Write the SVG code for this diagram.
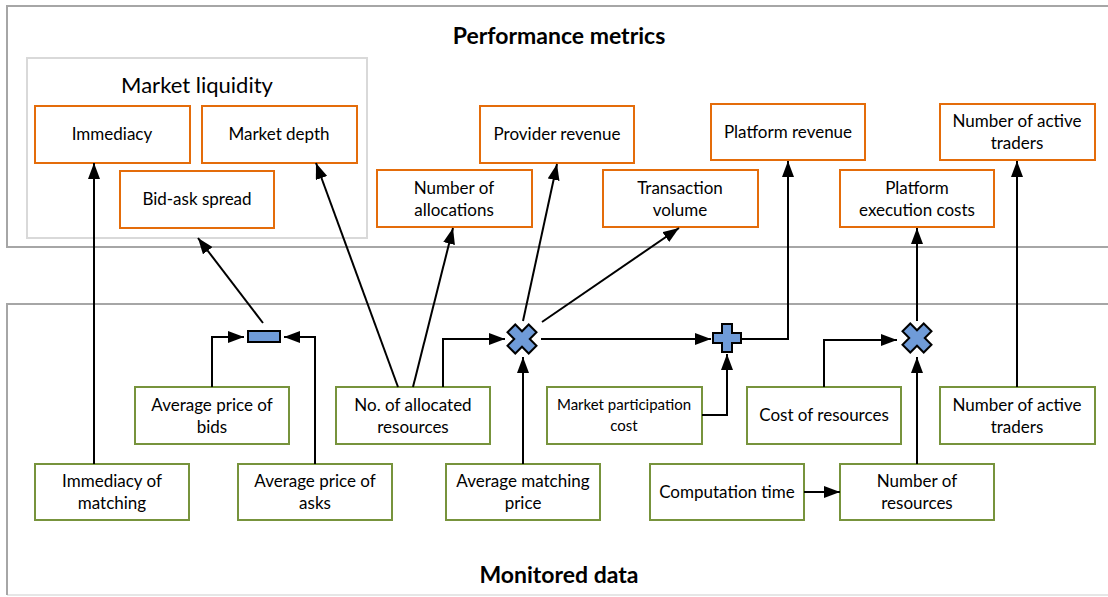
<svg xmlns="http://www.w3.org/2000/svg" width="1108" height="597" viewBox="0 0 1108 597">
<style>
.cont{fill:none;stroke:#A6A6A6;stroke-width:2}
.ml{fill:#fff;stroke:#D9D9D9;stroke-width:2}
.pm{fill:#fff;stroke:#E46C0A;stroke-width:2}
.md{fill:#fff;stroke:#77933C;stroke-width:2}
text{font-family:Lato,"Liberation Sans",sans-serif;fill:#000;text-anchor:middle}
.t{font-size:17px}
.ts{font-size:15px}
.title{font-size:23px;font-weight:bold}
.sub{font-size:22px}
.op{fill:#6F9BD8;stroke:#000;stroke-width:2;stroke-linejoin:miter}
.c{fill:none;stroke:#000;stroke-width:2;marker-end:url(#ah)}
</style>
<defs>
<marker id="ah" markerUnits="userSpaceOnUse" markerWidth="16" markerHeight="12" refX="16" refY="6" orient="auto"><path d="M0,0 L16,6 L0,12 z" fill="#000"/></marker>
<path id="plus" d="M-5,-14 H5 V-5 H14 V5 H5 V14 H-5 V5 H-14 V-5 H-5 Z"/>
<path id="cross" d="M-5.5,-15 H5.5 V-5.5 H15 V5.5 H5.5 V15 H-5.5 V5.5 H-15 V-5.5 H-5.5 Z" transform="rotate(45)"/>
</defs>
<rect width="1108" height="597" fill="#fff"/>
<g id="perf-container">
<rect class="cont" x="7" y="6" width="1110" height="241"/>
<text class="title" x="559" y="44">Performance metrics</text>
</g>
<g id="monitored-container">
<path d="M7,595 H1110" fill="none" stroke="#E6E6E6" stroke-width="2"/>
<path class="cont" d="M7,595 V304 H1110"/>
<text class="title" x="559" y="583">Monitored data</text>
</g>
<g id="market-liquidity">
<rect class="ml" x="27" y="58" width="340" height="180"/>
<text class="sub" x="197" y="93">Market liquidity</text>
</g>
<g id="immediacy"><rect class="pm" x="35" y="106" width="155" height="57"/><text class="t" x="112" y="140">Immediacy</text></g>
<g id="market-depth"><rect class="pm" x="202" y="106" width="155" height="57"/><text class="t" x="279" y="140">Market depth</text></g>
<g id="bid-ask-spread"><rect class="pm" x="120" y="171" width="154" height="57"/><text class="t" x="197" y="205">Bid-ask spread</text></g>
<g id="number-of-allocations"><rect class="pm" x="377" y="170" width="155" height="57"/><text class="t" x="454" y="194">Number of</text><text class="t" x="454" y="216">allocations</text></g>
<g id="provider-revenue"><rect class="pm" x="480" y="106" width="154" height="57"/><text class="t" x="557" y="140">Provider revenue</text></g>
<g id="transaction-volume"><rect class="pm" x="603" y="170" width="155" height="57"/><text class="t" x="680" y="194">Transaction</text><text class="t" x="680" y="216">volume</text></g>
<g id="platform-revenue"><rect class="pm" x="711" y="104" width="154" height="56"/><text class="t" x="788" y="138">Platform revenue</text></g>
<g id="platform-execution-costs"><rect class="pm" x="840" y="170" width="154" height="57"/><text class="t" x="917" y="194">Platform</text><text class="t" x="917" y="216">execution costs</text></g>
<g id="number-of-active-traders-pm"><rect class="pm" x="940" y="104" width="155" height="56"/><text class="t" x="1017" y="127">Number of active</text><text class="t" x="1017" y="149">traders</text></g>
<g id="avg-price-bids"><rect class="md" x="135" y="387" width="154" height="57"/><text class="t" x="212" y="411">Average price of</text><text class="t" x="212" y="433">bids</text></g>
<g id="no-allocated-resources"><rect class="md" x="336" y="387" width="154" height="57"/><text class="t" x="413" y="411">No. of allocated</text><text class="t" x="413" y="433">resources</text></g>
<g id="market-participation-cost"><rect class="md" x="547" y="387" width="155" height="57"/><text class="ts" x="624" y="410">Market participation</text><text class="ts" x="624" y="431">cost</text></g>
<g id="cost-of-resources"><rect class="md" x="747" y="387" width="154" height="57"/><text class="t" x="824" y="421">Cost of resources</text></g>
<g id="number-of-active-traders-md"><rect class="md" x="940" y="387" width="155" height="57"/><text class="t" x="1017" y="411">Number of active</text><text class="t" x="1017" y="433">traders</text></g>
<g id="immediacy-of-matching"><rect class="md" x="35" y="464" width="154" height="56"/><text class="t" x="112" y="487">Immediacy of</text><text class="t" x="112" y="509">matching</text></g>
<g id="avg-price-asks"><rect class="md" x="238" y="464" width="154" height="56"/><text class="t" x="315" y="487">Average price of</text><text class="t" x="315" y="509">asks</text></g>
<g id="avg-matching-price"><rect class="md" x="446" y="464" width="154" height="56"/><text class="t" x="523" y="487">Average matching</text><text class="t" x="523" y="509">price</text></g>
<g id="computation-time"><rect class="md" x="650" y="464" width="154" height="56"/><text class="t" x="727" y="498">Computation time</text></g>
<g id="number-of-resources"><rect class="md" x="840" y="464" width="154" height="56"/><text class="t" x="917" y="487">Number of</text><text class="t" x="917" y="509">resources</text></g>
<g id="op-minus"><rect class="op" x="248" y="331" width="32" height="11"/></g>
<g id="op-times-1"><use href="#cross" class="op" transform="translate(522,339)"/></g>
<g id="op-plus"><use href="#plus" class="op" transform="translate(727,338)"/></g>
<g id="op-times-2"><use href="#cross" class="op" transform="translate(917,338)"/></g>
<g id="connectors">
<path class="c" d="M94,464 V163"/>
<path class="c" d="M212,387 V337 H244"/>
<path class="c" d="M315,464 V337 H284"/>
<path class="c" d="M263,323 L198,238"/>
<path class="c" d="M398,387 L316,163"/>
<path class="c" d="M413,387 L453,228"/>
<path class="c" d="M443,387 V339 H505"/>
<path class="c" d="M523,321 L557,164"/>
<path class="c" d="M542,322 L679,228"/>
<path class="c" d="M541,339 H711"/>
<path class="c" d="M523,464 V357"/>
<path class="c" d="M702,415 H727 V354"/>
<path class="c" d="M742,339 H788 V161"/>
<path class="c" d="M824,387 V340 H897"/>
<path class="c" d="M804,492 H840"/>
<path class="c" d="M917,464 V357"/>
<path class="c" d="M917,321 V228"/>
<path class="c" d="M1017,387 V161"/>
</g>
</svg>
